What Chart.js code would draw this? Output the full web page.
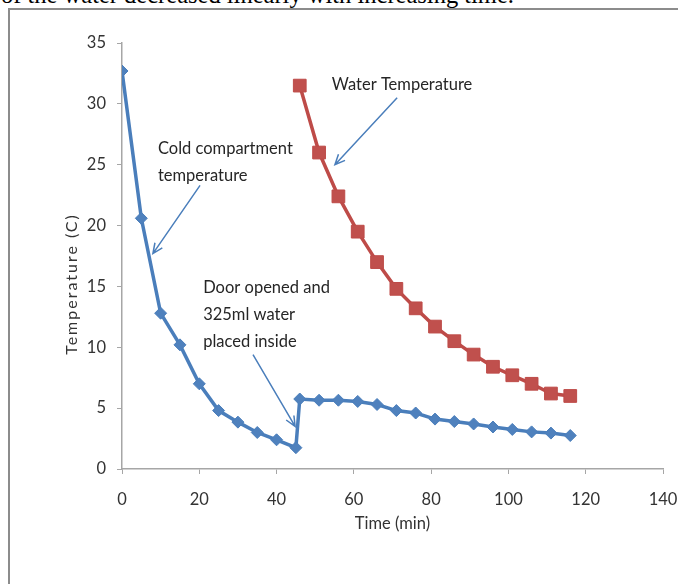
<!DOCTYPE html>
<html lang="en">
<head>
    <title>Temperature vs Time</title>
    <meta charset="utf-8">
    <script src="https://cdn.jsdelivr.net/npm/chart.js"></script>
    <style>
        html, body { margin: 0; padding: 0; background: #fff; }
        body { width: 678px; height: 584px; position: relative; overflow: hidden; }
        .caption {
            position: absolute; left: 1px; top: -17px;
            font-family: "Liberation Serif", "Times New Roman", serif;
            font-size: 24.5px; line-height: 24px; white-space: nowrap; color: #000;
        }
        .frame {
            position: absolute; left: 8px; top: 8px; width: 720px; height: 620px;
            border: 2px solid #8c8c8c;
        }
        #chartBox { position: absolute; left: 0; top: 0; width: 678px; height: 584px; }
    </style>
</head>
<body>
    <div class="caption">of the water decreased linearly with increasing time.</div>
    <div class="frame"></div>
    <div id="chartBox">
        <canvas id="tempChart" width="678" height="584"></canvas>
    </div>

    <script>
        // time in minutes
        var coldTimes = [0, 5, 10, 15, 20, 25, 30, 35, 40, 45, 46, 51, 56, 61, 66, 71, 76, 81, 86, 91, 96, 101, 106, 111, 116];
        var coldTemps = [32.7, 20.6, 12.8, 10.2, 7.0, 4.8, 3.85, 3.0, 2.4, 1.75, 5.75, 5.65, 5.65, 5.55, 5.3, 4.8, 4.6, 4.1, 3.9, 3.7, 3.45, 3.25, 3.05, 2.95, 2.75];
        var waterTimes = [46, 51, 56, 61, 66, 71, 76, 81, 86, 91, 96, 101, 106, 111, 116];
        var waterTemps = [31.5, 26.0, 22.4, 19.5, 17.0, 14.8, 13.2, 11.7, 10.5, 9.4, 8.4, 7.7, 7.0, 6.2, 6.0];

        var xTicks = { min: 0, max: 140, step: 20 };
        var yTicks = { min: 0, max: 35, step: 5 };
        var yTitle = 'Temperature (C)';

        // callouts, placed in data units: text anchor + arrow from/to
        var callouts = [
            { lines: ['Cold compartment', 'temperature'], at: [9.3, 25.9], from: [20.2, 23.3], to: [8.0, 17.7] },
            { lines: ['Water Temperature'], at: [54.3, 31.1], from: [71.2, 30.5], to: [55.1, 25.0] },
            { lines: ['Door opened and', '325ml water', 'placed inside'], at: [21.0, 14.5], from: [33.9, 9.4], to: [44.8, 3.5] }
        ];

        function toPoints(xs, ys) {
            return xs.map(function (t, i) { return { x: t, y: ys[i] }; });
        }

        function drawArrow(ctx, x1, y1, x2, y2) {
            var ang = Math.atan2(y2 - y1, x2 - x1);
            var head = 11;
            ctx.beginPath();
            ctx.moveTo(x1, y1);
            ctx.lineTo(x2, y2);
            ctx.moveTo(x2 - head * Math.cos(ang - 0.42), y2 - head * Math.sin(ang - 0.42));
            ctx.lineTo(x2, y2);
            ctx.lineTo(x2 - head * Math.cos(ang + 0.42), y2 - head * Math.sin(ang + 0.42));
            ctx.stroke();
        }

        var calloutPlugin = {
            id: 'callouts',
            afterDatasetsDraw: function (chart) {
                var ctx = chart.ctx, sx = chart.scales.x, sy = chart.scales.y;
                ctx.save();
                ctx.font = '16.5px Lato';
                ctx.fillStyle = '#262626';
                ctx.textAlign = 'left';
                ctx.textBaseline = 'alphabetic';
                ctx.strokeStyle = '#4a7ebb';
                ctx.lineWidth = 1.5;
                callouts.forEach(function (c) {
                    var tx = sx.getPixelForValue(c.at[0]);
                    var ty = sy.getPixelForValue(c.at[1]);
                    c.lines.forEach(function (line, i) {
                        ctx.fillText(line, tx, ty + i * 27);
                    });
                    drawArrow(ctx,
                        sx.getPixelForValue(c.from[0]), sy.getPixelForValue(c.from[1]),
                        sx.getPixelForValue(c.to[0]), sy.getPixelForValue(c.to[1]));
                });

                // y axis title, spaced out like the stretched original
                ctx.translate(72, sy.getPixelForValue(15.2));
                ctx.rotate(-Math.PI / 2);
                ctx.font = '16px Lato';
                ctx.letterSpacing = '2px';
                ctx.textAlign = 'center';
                ctx.textBaseline = 'middle';
                ctx.fillStyle = '#333';
                ctx.fillText(yTitle, 0, 0);
                ctx.restore();
            }
        };

        var axisColor = '#a6a6a6';
        var tickFont = { family: 'Lato', size: 16.5 };

        var ctx = document.getElementById('tempChart').getContext('2d');
        var tempChart = new Chart(ctx, {
            type: 'line',
            data: {
                datasets: [{
                    label: 'Cold compartment temperature',
                    data: toPoints(coldTimes, coldTemps),
                    borderColor: '#4a7ebb',
                    backgroundColor: '#4f81bd',
                    borderWidth: 3.5,
                    pointStyle: 'rectRot',
                    pointRadius: 6,
                    pointBorderWidth: 1,
                    pointBorderColor: '#4a7ebb',
                    tension: 0
                }, {
                    label: 'Water Temperature',
                    data: toPoints(waterTimes, waterTemps),
                    borderColor: '#be4b48',
                    backgroundColor: '#c0504d',
                    borderWidth: 3.5,
                    pointStyle: 'rect',
                    pointRadius: 9,
                    pointBorderWidth: 1,
                    pointBorderColor: '#be4b48',
                    tension: 0
                }]
            },
            options: {
                responsive: false,
                animation: false,
                devicePixelRatio: 1,
                layout: { padding: { left: 62, top: 43, right: 15, bottom: 50 } },
                plugins: {
                    legend: { display: false },
                    tooltip: { enabled: false }
                },
                scales: {
                    x: {
                        type: 'linear',
                        min: xTicks.min,
                        max: xTicks.max,
                        afterFit: function (s) { s.height = 65; s.paddingLeft = 0; s.paddingRight = 0; },
                        border: { display: true, color: axisColor, width: 1.5 },
                        grid: { drawOnChartArea: false, drawTicks: true, tickLength: 5, color: axisColor },
                        ticks: { stepSize: xTicks.step, padding: 16, color: '#333', font: tickFont, maxRotation: 0 },
                        title: { display: true, text: 'Time (min)', color: '#333', font: tickFont, padding: 0 }
                    },
                    y: {
                        min: yTicks.min,
                        max: yTicks.max,
                        afterFit: function (s) { s.width = 60; s.paddingTop = 0; s.paddingBottom = 0; },
                        border: { display: true, color: axisColor, width: 1.5 },
                        grid: { drawOnChartArea: false, drawTicks: true, tickLength: 5, color: axisColor },
                        ticks: { stepSize: yTicks.step, padding: 11, color: '#333', font: tickFont },
                        title: { display: false }
                    }
                }
            },
            plugins: [calloutPlugin]
        });
    </script>
</body>
</html>
